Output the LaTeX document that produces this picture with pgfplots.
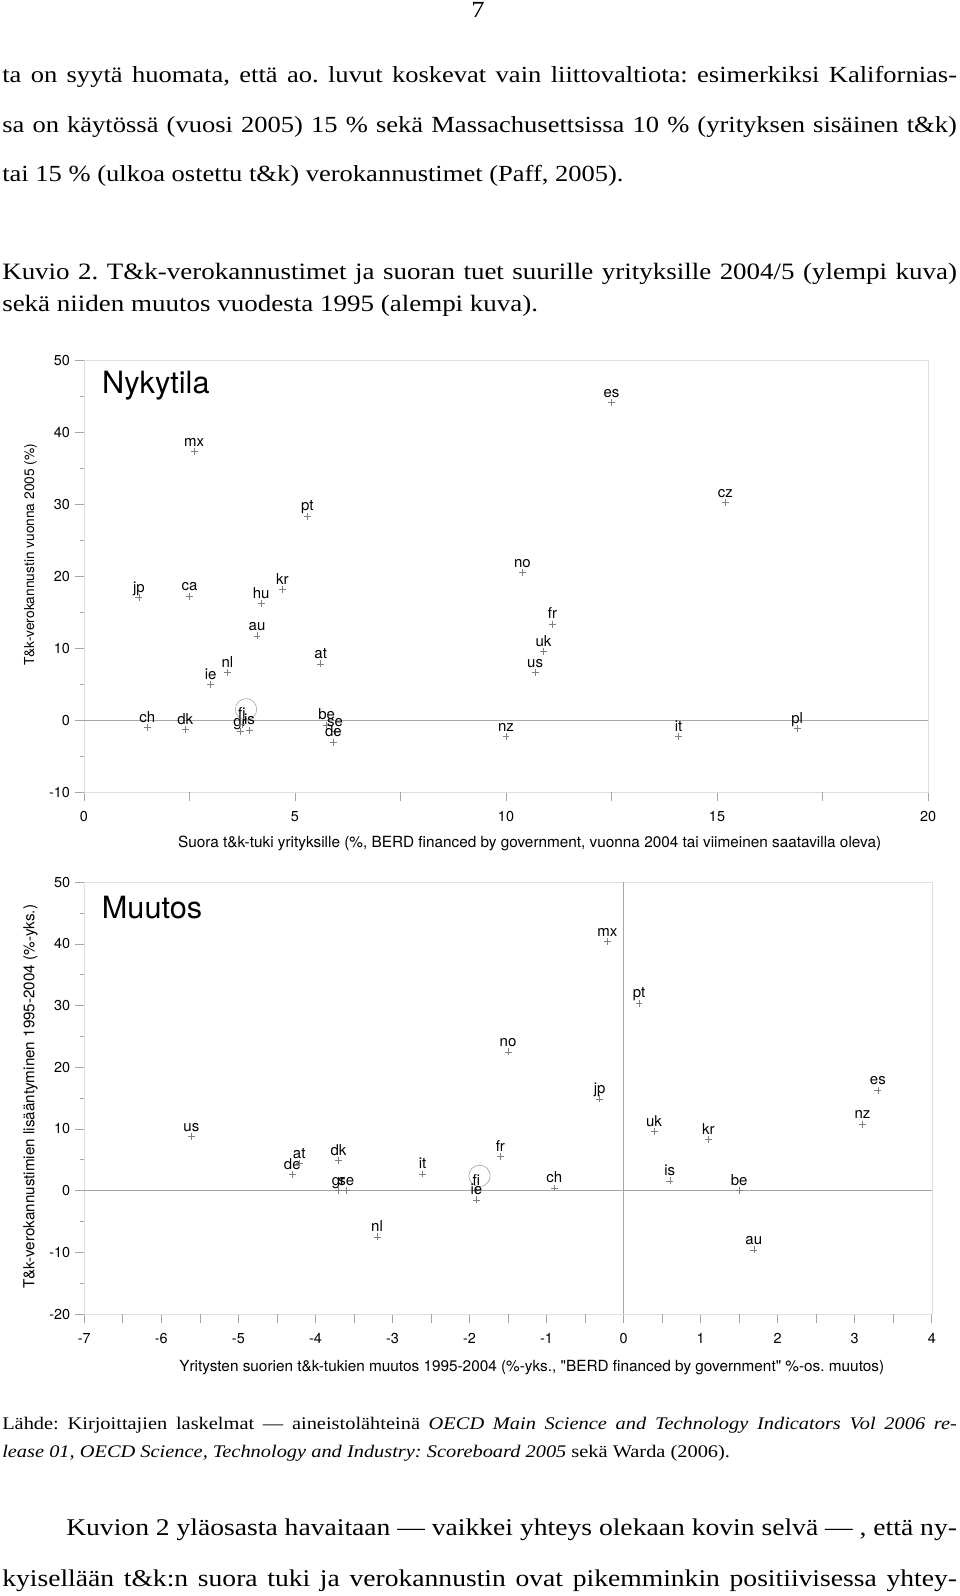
\documentclass[border=0pt]{standalone}
\usepackage{pgfplots}
\pgfplotsset{compat=1.18}
\usepackage{fontspec}
\setmainfont{Liberation Serif}[FakeStretch=1.15]
\newfontfamily\hv{TeX Gyre Heros}

\pgfplotsset{
  scatterpage/.style={
    anchor=south west, scale only axis,
    axis line style={draw=gray!25},
    tick style={gray!70, line width=0.5pt},
    tick align=outside, xtick pos=bottom, ytick pos=left,
    major tick length=7pt, minor tick length=3pt,
    /pgf/number format/assume math mode=true,
    tick label style={font=\fontsize{10.8}{12}\hv},
    xticklabel style={yshift=-4pt},
    xlabel style={font=\fontsize{11.5}{13}\hv},
    clip=false,
  },
  labelled/.style={
    only marks, mark=+, mark size=2.6pt,
    mark options={gray, line width=0.4pt},
    nodes near coords, point meta=explicit symbolic,
    nodes near coords style={font=\fontsize{11.25}{12}\hv, text=black,
      anchor=base, yshift=4pt, inner sep=0pt},
  },
}

\begin{document}
\frenchspacing
\begin{tikzpicture}[x=0.75pt,y=-0.75pt]
\useasboundingbox (0,0) rectangle (960,1596);

% page text above
\node[anchor=base, inner sep=0pt, font=\fontsize{17.3}{18}\selectfont] at (478,17) {7};
\begin{scope}[every node/.style={anchor=base west, inner sep=0pt, font=\fontsize{17.3}{18}\selectfont}]
\node at (2,82) {\makebox[716pt][s]{ta on syytä huomata, että ao. luvut koskevat vain liittovaltiota: esimerkiksi Kalifornias-}};
\node at (2,132) {\makebox[716pt][s]{sa on käytössä (vuosi 2005) 15 \% sekä Massachusettsissa 10 \% (yrityksen sisäinen t\&k)}};
\node at (2,181) {tai 15 \% (ulkoa ostettu t\&k) verokannustimet (Paff, 2005).};
\node[font=\fontsize{17.6}{18}\selectfont] at (2,279) {\makebox[716pt][s]{Kuvio 2. T\&k-verokannustimet ja suoran tuet suurille yrityksille 2004/5 (ylempi kuva)}};
\node[font=\fontsize{17.6}{18}\selectfont] at (2,311) {sekä niiden muutos vuodesta 1995 (alempi kuva).};
\end{scope}

% upper chart
\begin{axis}[scatterpage, at={(63pt,-594pt)}, width=633pt, height=324pt,
  xmin=0, xmax=20, ymin=-10, ymax=50,
  xtick={0,5,10,15,20}, extra x ticks={2.5,7.5,12.5,17.5}, extra x tick labels={},
  ytick={-10,0,10,20,30,40,50}, minor ytick={-5,5,15,25,35,45},
  xlabel={Suora t\&k-tuki yrityksille (\%, BERD financed by government, vuonna 2004 tai viimeinen saatavilla oleva)},
  ylabel={T\&k-verokannustin vuonna 2005 (\%)},
  xlabel style={at={(axis description cs:0.528,-0.120)}, anchor=center},
  ylabel style={at={(axis description cs:-0.0634,0.549)}, anchor=center, font=\fontsize{10.3}{12}\hv},
]
\addplot[gray!70, line width=0.5pt, no marks] coordinates {(0,0) (20,0)};
\addplot[only marks, mark=o, mark size=8pt, mark options={gray!80, line width=0.4pt}] coordinates {(3.84,1.49)};
\addplot[labelled] table[x=x, y=y, meta=l] {
x y l
2.61 37.3 mx
5.29 28.3 pt
1.30 17.0 jp
2.50 17.2 ca
4.70 18.1 kr
4.20 16.2 hu
4.10 11.7 au
5.61 7.8 at
3.40 6.6 nl
3.00 4.9 ie
1.50 -1.07 ch
2.40 -1.34 dk
3.70 -1.6 gr
3.92 -1.4 is
3.74 -0.6 fi
5.75 -0.7 be
5.95 -1.6 se
5.91 -3.1 de
12.50 44.1 es
15.20 30.2 cz
10.39 20.5 no
11.10 13.3 fr
10.89 9.5 uk
10.69 6.6 us
10.00 -2.3 nz
14.09 -2.3 it
16.90 -1.16 pl
};
\node[anchor=base west, inner sep=0pt, font=\fontsize{23}{26}\hv] at (axis description cs:0.0213,0.923) {Nykytila};
\end{axis}

% lower chart
\begin{axis}[scatterpage, at={(63.225pt,-985.5pt)}, width=635.6pt, height=323.8pt,
  xmin=-7, xmax=4, ymin=-20, ymax=50,
  xtick={-7,-6,-5,-4,-3,-2,-1,0,1,2,3,4},
  extra x ticks={-6.5,-5.5,-4.5,-3.5,-2.5,-1.5,-0.5,0.5,1.5,2.5,3.5}, extra x tick labels={},
  ytick={-20,-10,0,10,20,30,40,50}, minor ytick={-15,-5,5,15,25,35,45},
  xlabel={Yritysten suorien t\&k-tukien muutos 1995-2004 (\%-yks., "BERD financed by government" \%-os. muutos)},
  ylabel={T\&k-verokannustimien lisääntyminen 1995-2004 (\%-yks.)},
  xlabel style={at={(axis description cs:0.528,-0.123)}, anchor=center},
  ylabel style={at={(axis description cs:-0.0635,0.503)}, anchor=center, font=\fontsize{11.4}{13}\hv},
]
\addplot[gray!70, line width=0.5pt, no marks] coordinates {(-7,0) (4,0)};
\addplot[gray!70, line width=0.5pt, no marks] coordinates {(0,-20) (0,50)};
\addplot[only marks, mark=o, mark size=8pt, mark options={gray!80, line width=0.4pt}] coordinates {(-1.87,2.4)};
\addplot[labelled] table[x=x, y=y, meta=l] {
x y l
-5.61 8.8 us
-4.30 2.6 de
-4.21 4.4 at
-3.70 4.9 dk
-3.70 0.0 gr
-3.60 0.0 se
-3.20 -7.5 nl
-2.61 2.7 it
-1.91 0.05 fi
-1.91 -1.5 ie
-1.50 22.5 no
-1.60 5.5 fr
-0.90 0.43 ch
-0.31 14.9 jp
-0.21 40.4 mx
0.20 30.4 pt
0.395 9.6 uk
0.60 1.6 is
1.10 8.3 kr
1.50 0.05 be
1.69 -9.6 au
3.10 10.8 nz
3.30 16.3 es
};
\node[anchor=base west, inner sep=0pt, font=\fontsize{23}{26}\hv] at (axis description cs:0.0205,0.915) {Muutos};
\end{axis}

% page text below
\begin{scope}[every node/.style={anchor=base west, inner sep=0pt}]
\node[font=\fontsize{13.3}{15}\selectfont] at (2,1429.5) {\makebox[716pt][s]{Lähde: Kirjoittajien laskelmat — aineistolähteinä \textit{OECD Main Science and Technology Indicators Vol 2006 re-}}};
\node[font=\fontsize{13.3}{15}\selectfont] at (2,1457.5) {\textit{lease 01, OECD Science, Technology and Industry: Scoreboard 2005} sekä Warda (2006).};
\node[font=\fontsize{18}{20}\selectfont] at (66,1535) {\makebox[668pt][s]{Kuvion 2 yläosasta havaitaan — vaikkei yhteys olekaan kovin selvä — , että ny-}};
\node[font=\fontsize{18}{20}\selectfont] at (2,1586) {\makebox[716pt][s]{kyisellään t\&k:n suora tuki ja verokannustin ovat pikemminkin positiivisessa yhtey-}};
\end{scope}
\end{tikzpicture}
\end{document}
